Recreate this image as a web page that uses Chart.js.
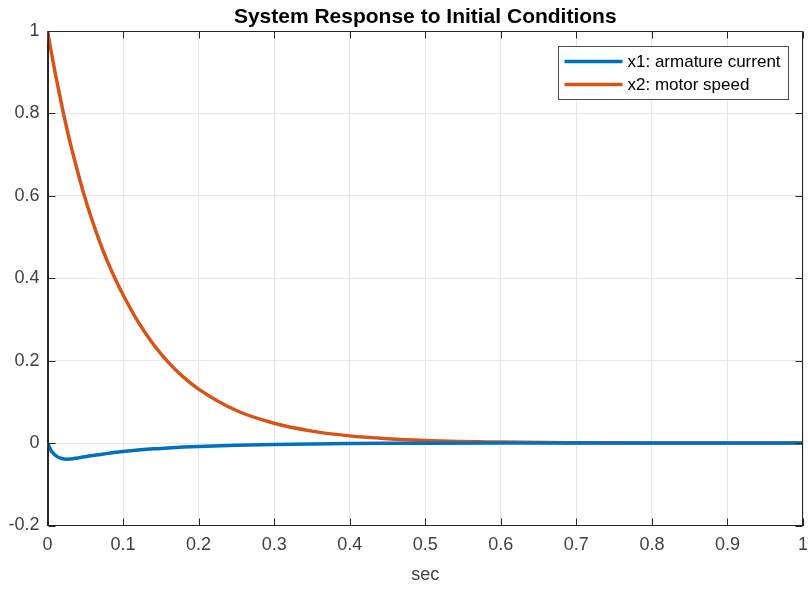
<!DOCTYPE html>
<html>
<head>
<meta charset="utf-8">
<script src="https://cdn.jsdelivr.net/npm/chart.js@4/dist/chart.umd.min.js"></script>
<style>
  body { margin: 0; background: #fff; }
  #wrap { width: 808px; height: 589px; }
</style>
</head>
<body>
<div id="wrap"><canvas id="canvas" width="808" height="589"></canvas></div>
<script>
// time samples (sec)
const timeSec = [0, 0.005, 0.01, 0.015, 0.02, 0.025, 0.03, 0.04, 0.05, 0.06, 0.07, 0.08, 0.09,
    0.1, 0.12, 0.14, 0.16, 0.18, 0.2, 0.25, 0.3, 0.35, 0.4, 0.45, 0.5, 0.6, 0.7, 0.8, 0.9, 1.0];
// x1: armature current
const armatureCurrent = [0, -0.019, -0.029, -0.035, -0.038, -0.039, -0.0388, -0.036, -0.033, -0.030, -0.0275, -0.025, -0.0225,
    -0.0205, -0.017, -0.014, -0.0118, -0.0098, -0.0082, -0.0052, -0.0032, -0.002, -0.0012, -0.0007, -0.0004, -0.0001, 0, 0, 0, 0];
// x2: motor speed
const motorSpeed = [1, 0.949, 0.9, 0.854, 0.81, 0.768, 0.729, 0.658, 0.593, 0.536, 0.484, 0.438, 0.397,
    0.36, 0.294, 0.240, 0.196, 0.160, 0.131, 0.079, 0.048, 0.029, 0.0175, 0.0107, 0.0065, 0.0024, 0.0009, 0.0003, 0.0001, 0];

const chartTitle = 'System Response to Initial Conditions';
const seriesLabels = ['x1: armature current', 'x2: motor speed'];
const xTickLabels = ['0', '0.1', '0.2', '0.3', '0.4', '0.5', '0.6', '0.7', '0.8', '0.9', '1'];
const yTickLabels = ['-0.2', '0', '0.2', '0.4', '0.6', '0.8', '1'];

const axisColor = '#262626';
const textColor = '#404040';
const fontFamily = '"Liberation Sans", Arial, Helvetica, sans-serif';

function toPoints(vals) {
    return timeSec.map((t, i) => ({ x: t, y: vals[i] }));
}

// title centred over the axes, box around the axes with inward ticks, and the legend box
const frameAndLegend = {
    id: 'frameAndLegend',
    afterDraw(chart) {
        const ctx = chart.ctx;
        const { left, right, top, bottom } = chart.chartArea;
        const xs = chart.scales.x, ys = chart.scales.y;
        const L = Math.round(left) + 0.5, R = Math.round(right) - 0.5;
        const T = Math.round(top) + 0.5, B = Math.round(bottom) - 0.5;
        ctx.save();

        ctx.font = 'bold 21px ' + fontFamily;
        ctx.fillStyle = '#000000';
        ctx.textAlign = 'center';
        ctx.textBaseline = 'middle';
        ctx.fillText(chartTitle, (left + right) / 2, 17);

        ctx.strokeStyle = axisColor;
        ctx.lineWidth = 1;
        ctx.beginPath();
        ctx.rect(L, T, R - L, B - T);
        const tl = 7;
        xs.ticks.forEach(t => {
            const px = Math.round(xs.getPixelForValue(t.value)) + 0.5;
            ctx.moveTo(px, B); ctx.lineTo(px, B - tl);
            ctx.moveTo(px, T); ctx.lineTo(px, T + tl);
        });
        ys.ticks.forEach(t => {
            const py = Math.round(ys.getPixelForValue(t.value)) + 0.5;
            ctx.moveTo(L, py); ctx.lineTo(L + tl, py);
            ctx.moveTo(R, py); ctx.lineTo(R - tl, py);
        });
        ctx.stroke();

        // legend
        ctx.font = '17px ' + fontFamily;
        const sets = chart.data.datasets;
        const textW = Math.max(...sets.map(d => ctx.measureText(d.label).width));
        const lineLen = 58, padL = 6, gap = 5, padR = 8;
        const boxW = Math.round(padL + lineLen + gap + textW + padR);
        const boxH = 53;
        const bx = Math.round(right - 15 - boxW) + 0.5;
        const by = Math.round(top + 15) + 0.5;
        ctx.fillStyle = '#ffffff';
        ctx.fillRect(bx, by, boxW, boxH);
        ctx.strokeStyle = '#4d4d4d';
        ctx.lineWidth = 1;
        ctx.strokeRect(bx, by, boxW, boxH);
        sets.forEach((d, i) => {
            const cy = by + 15 + i * 23;
            ctx.strokeStyle = d.borderColor;
            ctx.lineWidth = 3.5;
            ctx.beginPath();
            ctx.moveTo(bx + padL, cy);
            ctx.lineTo(bx + padL + lineLen, cy);
            ctx.stroke();
            ctx.fillStyle = '#000000';
            ctx.textBaseline = 'middle';
            ctx.textAlign = 'left';
            ctx.fillText(d.label, bx + padL + lineLen + gap, cy + 1);
        });
        ctx.restore();
    }
};

function createChart() {
    const ctx = document.getElementById('canvas').getContext('2d');
    new Chart(ctx, {
        type: 'line',
        data: {
            datasets: [
                {
                    label: seriesLabels[0],
                    data: toPoints(armatureCurrent),
                    borderColor: '#0072BD',
                    borderWidth: 3.5,
                    pointRadius: 0,
                    cubicInterpolationMode: 'monotone',
                    fill: false
                },
                {
                    label: seriesLabels[1],
                    data: toPoints(motorSpeed),
                    borderColor: '#D95319',
                    borderWidth: 3.5,
                    pointRadius: 0,
                    cubicInterpolationMode: 'monotone',
                    fill: false
                }
            ]
        },
        options: {
            responsive: false,
            animation: false,
            layout: { padding: { top: 31, left: 0, right: 5, bottom: 0 } },
            scales: {
                x: {
                    type: 'linear',
                    min: 0,
                    max: 1,
                    ticks: {
                        stepSize: 0.1,
                        color: textColor,
                        font: { family: fontFamily, size: 18 },
                        padding: 9,
                        maxRotation: 0,
                        callback: (v, i) => xTickLabels[i]
                    },
                    grid: { color: '#e6e6e6', drawTicks: false },
                    border: { color: axisColor },
                    title: {
                        display: true,
                        text: 'sec',
                        color: textColor,
                        font: { family: fontFamily, size: 18 },
                        padding: { top: 4, bottom: 3 }
                    },
                    afterFit(scale) {
                        scale.height = 63.5;
                        scale.paddingLeft = 0;
                        scale.paddingRight = 0;
                    }
                },
                y: {
                    min: -0.2,
                    max: 1,
                    ticks: {
                        stepSize: 0.2,
                        color: textColor,
                        font: { family: fontFamily, size: 18 },
                        padding: 8,
                        callback: (v, i) => yTickLabels[i]
                    },
                    grid: { color: '#e6e6e6', drawTicks: false },
                    border: { color: axisColor },
                    afterFit(scale) {
                        scale.width = 47.5;
                        scale.paddingTop = 0;
                        scale.paddingBottom = 0;
                    }
                }
            },
            plugins: {
                legend: { display: false },
                tooltip: { enabled: false },
                title: { display: false }
            }
        },
        plugins: [frameAndLegend]
    });
}

createChart();
</script>
</body>
</html>
